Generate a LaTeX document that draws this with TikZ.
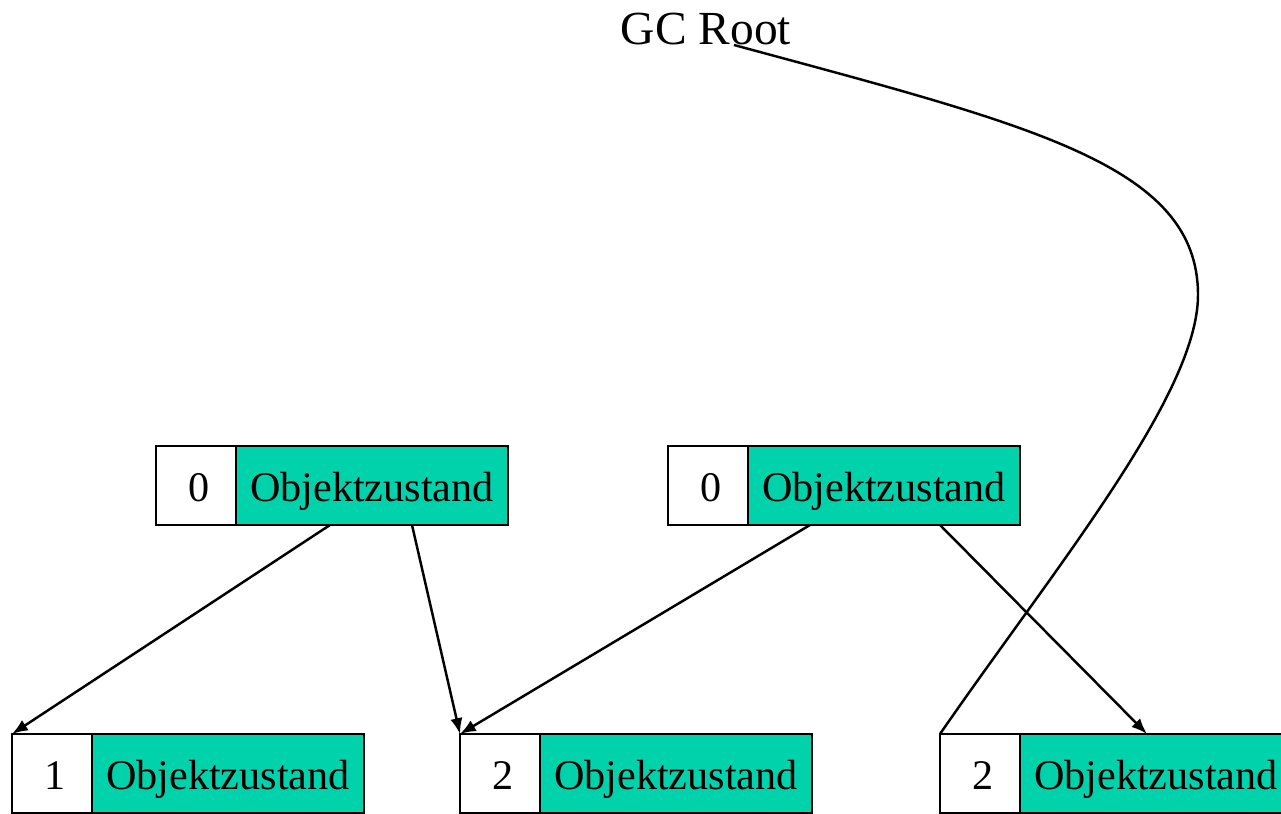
\documentclass[tikz,border=0pt]{standalone}
\usepackage{fontspec}
\setmainfont{Liberation Serif}
\usetikzlibrary{arrows.meta}
\definecolor{objteal}{RGB}{0,210,172}
\tikzset{
	numcell/.style={draw, line width=1.4pt, fill=white, minimum width=1.6cm, minimum height=1.58cm, inner sep=0pt, outer sep=0pt, text height=0.74cm, text depth=0.08cm, font=\fontsize{24}{28}\selectfont},
	statecell/.style={draw, line width=1.4pt, fill=objteal, minimum width=5.44cm, minimum height=1.58cm, inner sep=0pt, outer sep=0pt, text height=0.74cm, text depth=0.08cm, anchor=west, font=\fontsize{24}{28}\selectfont},
	ref/.style={-{Latex[length=9pt,width=7pt]}, line width=1.4pt}
}
\begin{document}
\begin{tikzpicture}
	\useasboundingbox (0, 0) rectangle (25.62, 16.28);
	\node[inner sep=0pt, anchor=base, font=\fontsize{27}{32}\selectfont] (gc) at (14.12, 15.38) {GC Root};
	\node[numcell] (cnt1) at (3.92, 6.57) {\,0};
	\node[statecell] (obj1) at (cnt1.east) {Objektzustand};
	\node[numcell] (cnt2) at (14.16, 6.57) {\,0};
	\node[statecell] (obj2) at (cnt2.east) {Objektzustand};
	\node[numcell] (cnt3) at (1.04, 0.81) {\,1};
	\node[statecell] (obj3) at (cnt3.east) {Objektzustand};
	\node[numcell] (cnt4) at (10.0, 0.81) {\,2};
	\node[statecell] (obj4) at (cnt4.east) {Objektzustand};
	\node[numcell] (cnt5) at (19.6, 0.81) {\,2};
	\node[statecell] (obj5) at (cnt5.east) {Objektzustand};
	\draw[ref] ([xshift=-0.84cm]obj1.south) -- (cnt3.north west);
	\draw[ref] ([xshift=0.8cm]obj1.south) -- (cnt4.north west);
	\draw[ref] ([xshift=-1.48cm]obj2.south) -- (cnt4.north west);
	\draw[ref] ([xshift=1.12cm]obj2.south) -- ([xshift=-0.18cm]obj5.north);
	\draw[line width=1.4pt] ([xshift=0.56cm]gc.base) .. controls (20.66, 13.76) and (23.96, 12.98) .. (23.96, 10.38)
		.. controls (23.96, 8.38) and (21.08, 4.90) .. (cnt5.north west);
\end{tikzpicture}
\end{document}
